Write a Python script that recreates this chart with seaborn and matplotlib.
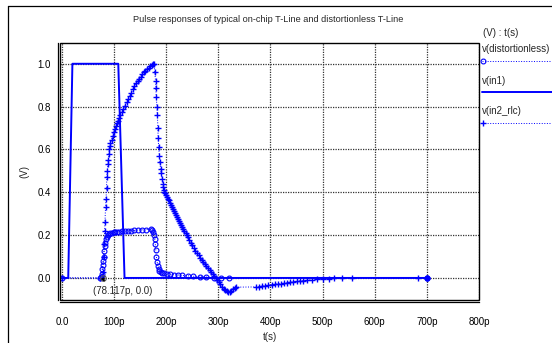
import numpy as np
import pandas as pd
import matplotlib
matplotlib.use("Agg")
import matplotlib.pyplot as plt
from matplotlib.lines import Line2D
from matplotlib.patches import Rectangle
import seaborn as sns

# time in ps, voltage in V
t_in1 = [0, 12, 20, 108, 120, 700]
v_in1 = [0, 0, 1.0, 1.0, 0, 0]

t_dist = [0, 72, 74, 76, 77, 78, 79, 80, 81, 82, 83, 85, 87, 89, 91, 93, 96, 99,
          102, 106, 110, 115, 120, 126, 132, 139, 146, 154, 162, 170, 173, 175,
          176.5, 178, 179, 180, 181, 182.5, 184, 185.5, 187, 189, 192, 196, 201,
          207, 214, 222, 231, 241, 252, 264, 277, 291, 305, 320, 700]
v_dist = [0, 0, 0.005, 0.02, 0.04, 0.06, 0.08, 0.1, 0.125, 0.15, 0.165, 0.18,
          0.19, 0.2, 0.205, 0.208, 0.211, 0.213, 0.214, 0.215, 0.216, 0.217,
          0.218, 0.219, 0.221, 0.222, 0.224, 0.225, 0.226, 0.227, 0.226, 0.215,
          0.2, 0.18, 0.16, 0.13, 0.1, 0.075, 0.055, 0.04, 0.032, 0.027, 0.024,
          0.022, 0.02, 0.018, 0.016, 0.014, 0.012, 0.01, 0.008, 0.006, 0.004,
          0.002, 0.001, 0.0, 0.0]

t_rlc = [0, 72, 76, 78, 80, 81, 82, 82.5, 83.5, 84.5, 85.5, 86, 87, 88, 89, 90,
         91, 92, 93, 95, 97, 99, 101, 103, 105, 107, 109, 112, 115, 118, 121,
         124, 127, 130, 133, 136, 139, 142, 145, 148, 151, 154, 157, 160, 163,
         166, 169, 172, 175, 177, 178, 179.5, 180, 181, 182, 183, 184, 184.5,
         185.5, 187, 188, 189, 190.5, 192, 193, 194, 195, 196, 197, 199, 201,
         203, 205, 207, 209, 211, 213, 215, 217, 219, 221, 223, 225, 227, 229,
         231, 233, 235, 237, 239, 241, 244, 247, 250, 253, 256, 259, 262, 265,
         268, 271, 274, 277, 280, 283, 286, 289, 292, 295, 298, 301, 304, 307,
         310, 313, 316, 319, 322, 325, 328, 331, 334, 372, 378, 384, 390, 396,
         402, 408, 414, 420, 426, 432, 438, 444, 450, 456, 462, 470, 480, 490,
         500, 513, 522, 538, 557, 683, 700]
v_rlc = [0, 0, 0.01, 0.03, 0.1, 0.16, 0.22, 0.26, 0.33, 0.37, 0.42, 0.47, 0.5,
         0.53, 0.55, 0.58, 0.6, 0.615, 0.63, 0.645, 0.665, 0.68, 0.695, 0.71,
         0.725, 0.735, 0.746, 0.76, 0.775, 0.79, 0.805, 0.82, 0.835, 0.85,
         0.865, 0.88, 0.895, 0.91, 0.92, 0.93, 0.94, 0.95, 0.96, 0.968, 0.975,
         0.982, 0.988, 0.993, 0.997, 1.0, 0.96, 0.92, 0.886, 0.847, 0.8, 0.762,
         0.7, 0.653, 0.61, 0.57, 0.54, 0.51, 0.49, 0.46, 0.44, 0.425, 0.41,
         0.4, 0.395, 0.385, 0.378, 0.37, 0.362, 0.352, 0.342, 0.332, 0.322,
         0.312, 0.302, 0.294, 0.285, 0.276, 0.266, 0.256, 0.246, 0.236, 0.227,
         0.217, 0.208, 0.199, 0.19, 0.178, 0.165, 0.153, 0.14, 0.128, 0.117,
         0.106, 0.095, 0.085, 0.074, 0.064, 0.054, 0.045, 0.035, 0.026, 0.017,
         0.008, 0.0, -0.01, -0.02, -0.03, -0.04, -0.05, -0.058, -0.063, -0.066,
         -0.065, -0.06, -0.052, -0.046, -0.043, -0.042, -0.04, -0.038, -0.036,
         -0.034, -0.032, -0.03, -0.028, -0.026, -0.024, -0.022, -0.02, -0.018,
         -0.016, -0.014, -0.012, -0.01, -0.008, -0.006, -0.005, -0.003, -0.002,
         -0.001, 0.0, 0.0, 0.0]

x_ticks = [0, 100, 200, 300, 400, 500, 600, 700, 800]
x_tick_labels = ["0.0", "100p", "200p", "300p", "400p", "500p", "600p", "700p", "800p"]
y_ticks = [0.0, 0.2, 0.4, 0.6, 0.8, 1.0]
cursor_t, cursor_v = 78.117, 0.0

sns.set_style("white")
plt.rcParams["font.family"] = ["Liberation Sans", "DejaVu Sans"]
fs = 7
blue = "#0000ff"

W, H = 552, 343
fig = plt.figure(figsize=(W / 100, H / 100), dpi=100)
ax = fig.add_axes([60 / W, 1 - 300 / H, 419 / W, 257 / H])

df_in1 = pd.DataFrame({"t": t_in1, "v": v_in1})
df_dist = pd.DataFrame({"t": t_dist, "v": v_dist})
df_rlc = pd.DataFrame({"t": t_rlc, "v": v_rlc})

sns.lineplot(data=df_rlc, x="t", y="v", ax=ax, color=blue, estimator=None, sort=False,
             linestyle=":", lw=0.7, marker="+", ms=4.5, mew=1.0, mec=blue, zorder=3)
sns.lineplot(data=df_dist, x="t", y="v", ax=ax, color=blue, estimator=None, sort=False,
             linestyle=":", lw=0.7, marker="o", ms=3.5, mew=0.8, mfc="none", mec=blue,
             zorder=3)
sns.lineplot(data=df_in1, x="t", y="v", ax=ax, color=blue, estimator=None, sort=False,
             lw=1.4, zorder=4)
ax.plot([700], [0], marker="o", ms=3.5, color=blue, zorder=5)

# cursor readout
ax.plot([cursor_t], [cursor_v], marker="o", ms=4, mfc="none", mec="0.35", mew=0.8, zorder=6)
ax.annotate("", xy=(cursor_t + 6, cursor_v - 0.03), xytext=(cursor_t - 1, cursor_v + 0.005),
            arrowprops=dict(arrowstyle="-|>", color="k", lw=0.7, mutation_scale=5), zorder=6)
ax.text(cursor_t + 38, -0.063, f"({cursor_t}p, {cursor_v})", fontsize=fs, ha="center", va="center")

ax.set_xlim(-3.8, 800)
ax.set_ylim(-0.103, 1.097)
ax.set_xticks(x_ticks)
ax.set_xticklabels(x_tick_labels)
ax.set_yticks(y_ticks)
ax.set_yticklabels([f"{v:.1f}" for v in y_ticks])
ax.grid(True, color="0.2", linestyle=(0, (1, 1)), lw=0.9)
ax.set_axisbelow(True)
ax.tick_params(axis="x", direction="out", length=4, width=0.8, labelsize=fs,
               colors="black", pad=6.5)
ax.tick_params(axis="y", direction="out", length=3, width=0.8, labelsize=fs,
               colors="black", pad=2)
ax.set_xlabel("t(s)", fontsize=fs, labelpad=4)
ax.set_ylabel("(V)", fontsize=fs, labelpad=6)

for s in ["top", "right"]:
    ax.spines[s].set_visible(False)
for s in ["left", "bottom"]:
    ax.spines[s].set_position(("outward", 1.5))
    ax.spines[s].set_linewidth(0.9)
    ax.spines[s].set_color("black")
ax.add_patch(Rectangle((0, 0), 1, 1, transform=ax.transAxes, fill=False,
                       ec="black", lw=1.0, clip_on=False, zorder=7))

fig.text(268 / W, 1 - 20 / H,
         "Pulse responses of typical on-chip T-Line and distortionless T-Line",
         fontsize=6.6, ha="center", va="center")

# outer frame
fig.add_artist(Line2D([7.5 / W, 1], [1 - 5.5 / H] * 2, transform=fig.transFigure, color="black", lw=0.9))
fig.add_artist(Line2D([7.5 / W] * 2, [0, 1 - 5.5 / H], transform=fig.transFigure, color="black", lw=0.9))

# side legend
lx = 482 / W
fig.text(483 / W, 1 - 33 / H, "(V) : t(s)", fontsize=fs, va="center")
fig.text(lx, 1 - 49 / H, "v(distortionless)", fontsize=fs, va="center")
fig.text(lx, 1 - 81 / H, "v(in1)", fontsize=fs, va="center")
fig.text(lx, 1 - 111 / H, "v(in2_rlc)", fontsize=fs, va="center")
fig.add_artist(Line2D([lx, 1], [1 - 61 / H] * 2, transform=fig.transFigure, color=blue,
                      lw=0.7, linestyle=":"))
fig.add_artist(Line2D([lx + 1 / W], [1 - 61 / H], transform=fig.transFigure, marker="o",
                      ms=3.5, mfc="none", mec=blue, mew=0.8))
fig.add_artist(Line2D([lx, 1], [1 - 92 / H] * 2, transform=fig.transFigure, color=blue, lw=1.4))
fig.add_artist(Line2D([lx, 1], [1 - 123 / H] * 2, transform=fig.transFigure, color=blue,
                      lw=0.7, linestyle=":"))
fig.add_artist(Line2D([lx + 1 / W], [1 - 123 / H], transform=fig.transFigure, marker="+",
                      ms=4.5, mew=1.0, color=blue))

fig.savefig("out.png", dpi=100)
